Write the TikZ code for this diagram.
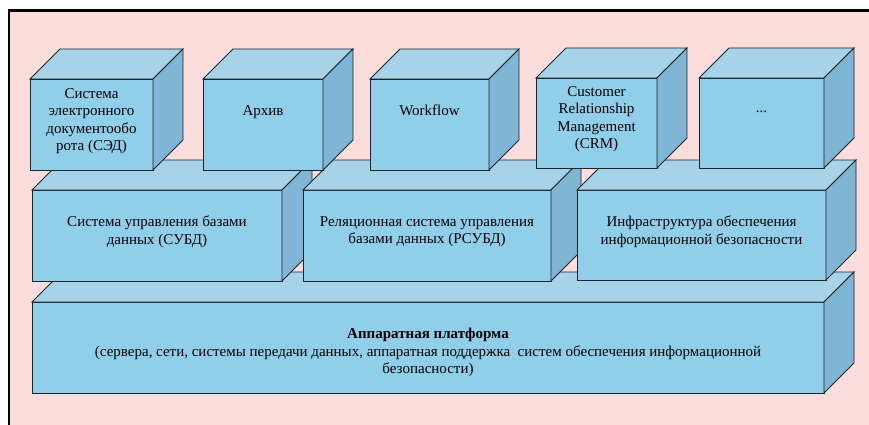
\documentclass[tikz,border=0pt]{standalone}
\usepackage{fontspec}
\setmainfont{Liberation Serif}
\usepackage{xcolor}
\usepackage{tikz}
\usetikzlibrary{positioning}
\definecolor{bgpink}{RGB}{251,221,220}
\definecolor{faceblue}{RGB}{145,206,234}
\definecolor{topblue}{RGB}{167,211,233}
\definecolor{sideblue}{RGB}{127,181,213}
\definecolor{edgegray}{RGB}{28,36,44}

\begin{document}
\begin{tikzpicture}[x=1pt,y=-1pt,
    front/.style={draw=edgegray, fill=faceblue, line width=0.9pt, outer sep=0pt, inner sep=0pt},
    topface/.style={draw=edgegray, fill=topblue, line width=0.9pt},
    sideface/.style={draw=edgegray, fill=sideblue, line width=0.9pt},
    txt/.style={align=center, inner sep=0pt, font=\fontsize{15}{17.5}\selectfont}]
\useasboundingbox (0,0) rectangle (869,425);
\clip (0,0) rectangle (869,425);
\draw[fill=bgpink, line width=2.6pt] (9,10.5) rectangle (900,460);
\foreach \n/\x/\y/\w/\h/\ty/\t in {
    hw/32/302/792/91/352.5/{\textbf{Аппаратная платформа}\\(сервера, сети, системы передачи данных, аппаратная поддержка\ \ систем обеспечения информационной\\безопасности)},
    subd/32/190/250/91/231.5/{Система управления базами\\данных (СУБД)},
    rsubd/303/190/248/91/231.5/{Реляционная система управления\\базами данных (РСУБД)},
    infra/577/190/249/90/231.5/{Инфраструктура обеспечения\\информационной безопасности},
    sed/30/79/123/91/121/{Система\\электронного\\документообо\\рота (СЭД)},
    arch/203/79/120/91/112/{Архив},
    wf/370/79/119/91/110.5/{Workflow},
    crm/536/78/121/90/119/{Customer\\Relationship\\Management\\(CRM)},
    etc/699/78/125/90/112/{...}} {
  \node[front, minimum width=\w pt, minimum height=\h pt, anchor=north west] (\n) at (\x,\y) {};
  \draw[topface] (\n.north west) -- ++(30,-30) -- ++(\w,0) -- (\n.north east) -- cycle;
  \draw[sideface] (\n.north east) -- ++(30,-30) -- ++(0,\h) -- (\n.south east) -- cycle;
  \node[txt] (\n-t) at (\x+\w/2,\ty) {\t};
}
\end{tikzpicture}
\end{document}
